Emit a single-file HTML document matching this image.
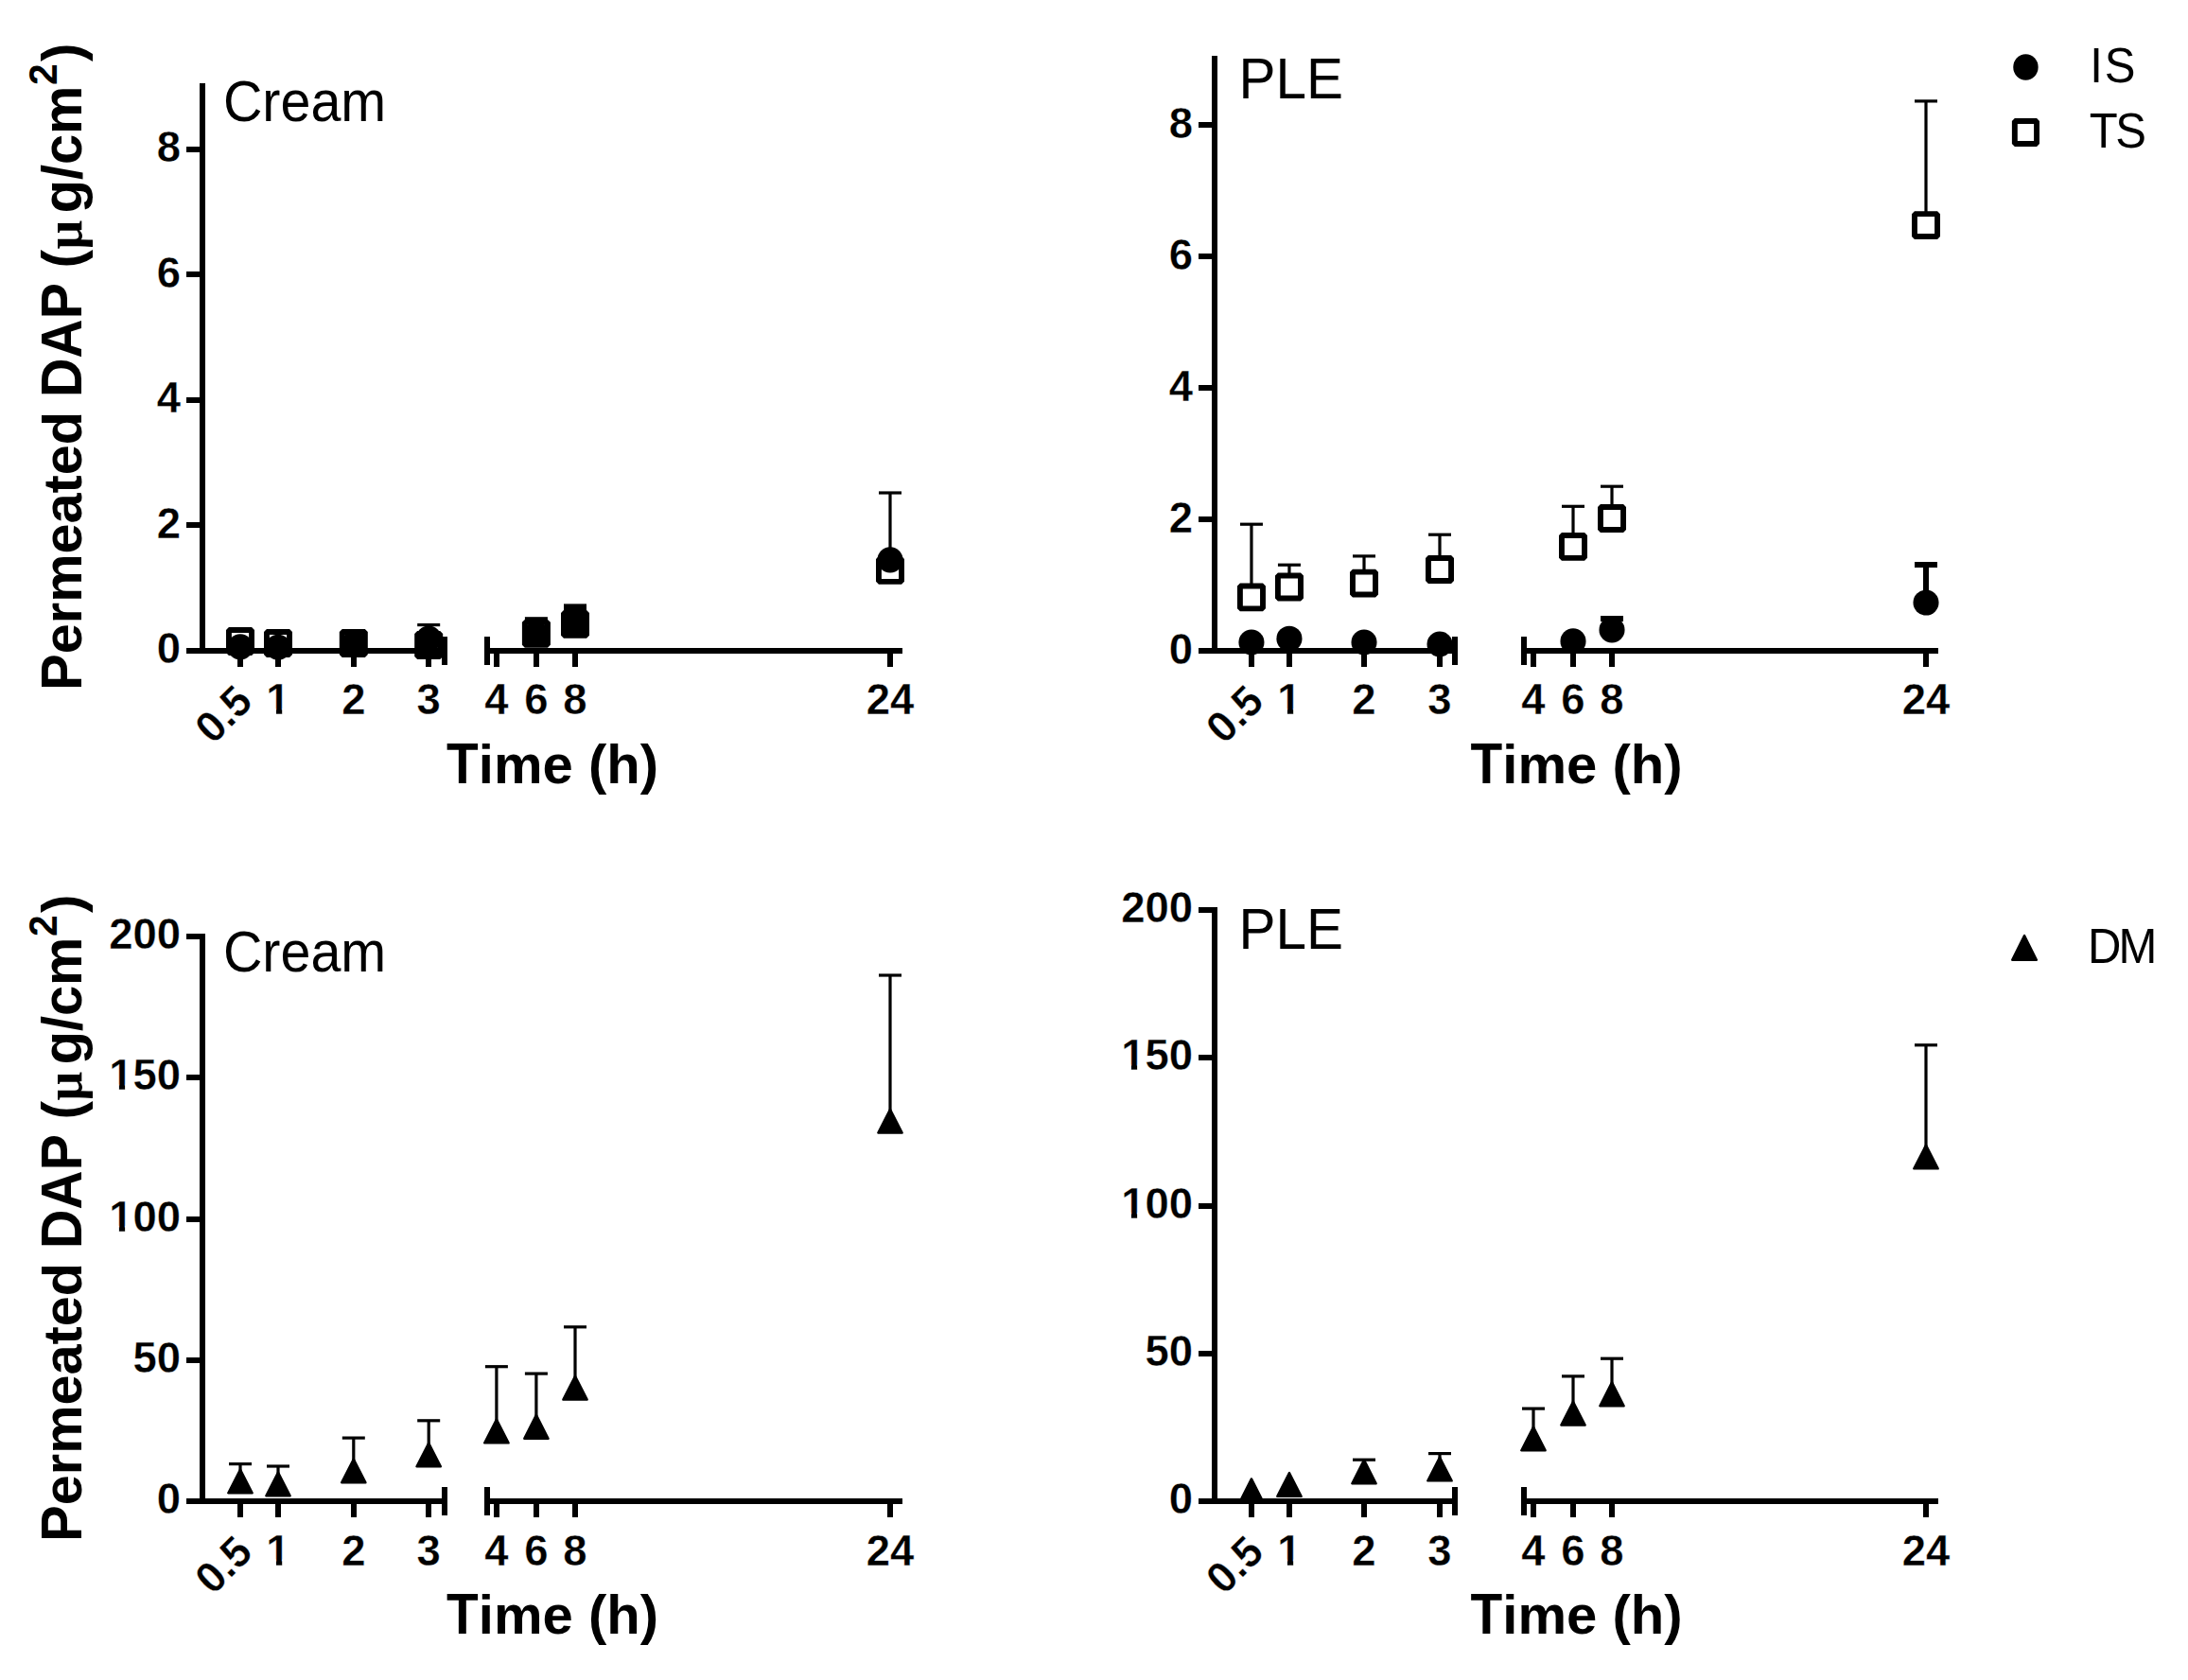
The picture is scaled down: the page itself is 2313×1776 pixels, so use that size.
<!DOCTYPE html>
<html lang="en"><head><meta charset="utf-8"><title>Permeated DAP</title>
<style>html,body{margin:0;padding:0;background:#fff;}body{width:2313px;height:1776px;overflow:hidden;}svg{display:block;}text{font-family:'Liberation Sans', Arial, Helvetica, sans-serif;fill:#000;}</style>
</head><body>
<svg width="2313" height="1776" viewBox="0 0 2313 1776" fill="#000">
<rect x="0" y="0" width="2313" height="1776" fill="#fff"/>
<defs>
<clipPath id="c1m" clipPathUnits="userSpaceOnUse"><path clip-rule="evenodd" d="M-200 -80H200V40H-200Z M-11.64 -5.98H-2.09V8H-11.64Z M4.33 -5.98H13.27V8H4.33Z"/></clipPath>
<clipPath id="c1e" clipPathUnits="userSpaceOnUse"><path clip-rule="evenodd" d="M-200 -80H200V40H-200Z M-76.71 -5.98H-67.16V8H-76.71Z M-60.74 -5.98H-51.8V8H-60.74Z"/></clipPath>
</defs>
<rect x="211" y="88" width="6" height="603"/>
<rect x="197" y="685" width="17" height="6"/>
<text id="TL_y0" transform="translate(191.1 701.2) scale(0.971 1)" font-size="46.8" font-weight="bold" text-anchor="end" stroke="#fff" stroke-width="0.35">0</text>
<rect x="197" y="552" width="17" height="6"/>
<text id="TL_y2" transform="translate(191.1 568.68) scale(0.971 1)" font-size="46.8" font-weight="bold" text-anchor="end" stroke="#fff" stroke-width="0.35">2</text>
<rect x="197" y="420" width="17" height="6"/>
<text id="TL_y4" transform="translate(191.1 436.16) scale(0.971 1)" font-size="46.8" font-weight="bold" text-anchor="end" stroke="#fff" stroke-width="0.35">4</text>
<rect x="197" y="287" width="17" height="6"/>
<text id="TL_y6" transform="translate(191.1 303.64) scale(0.971 1)" font-size="46.8" font-weight="bold" text-anchor="end" stroke="#fff" stroke-width="0.35">6</text>
<rect x="197" y="155" width="17" height="6"/>
<text id="TL_y8" transform="translate(191.1 171.12) scale(0.971 1)" font-size="46.8" font-weight="bold" text-anchor="end" stroke="#fff" stroke-width="0.35">8</text>
<rect x="197" y="685" width="276" height="6"/>
<rect x="467" y="673" width="6" height="30"/>
<rect x="512" y="673" width="6" height="30"/>
<rect x="512" y="685" width="442" height="6"/>
<rect x="251" y="688" width="6" height="17"/>
<text id="TL_x05" transform="translate(269.2 743.9) rotate(-45) scale(0.985 1)" font-size="45.5" font-weight="bold" text-anchor="end" stroke="#fff" stroke-width="0.35">0.5</text>
<rect x="291" y="688" width="6" height="17"/>
<text id="TL_x1" transform="translate(294 755.35) scale(0.971 1)" font-size="46.8" font-weight="bold" text-anchor="middle" clip-path="url(#c1m)" stroke="#fff" stroke-width="0.35">1</text>
<rect x="371" y="688" width="6" height="17"/>
<text id="TL_x2" transform="translate(373.8 755.35) scale(0.971 1)" font-size="46.8" font-weight="bold" text-anchor="middle" stroke="#fff" stroke-width="0.35">2</text>
<rect x="450" y="688" width="6" height="17"/>
<text id="TL_x3" transform="translate(453.2 755.35) scale(0.971 1)" font-size="46.8" font-weight="bold" text-anchor="middle" stroke="#fff" stroke-width="0.35">3</text>
<rect x="522" y="688" width="6" height="17"/>
<text id="TL_x4" transform="translate(524.9 755.35) scale(0.971 1)" font-size="46.8" font-weight="bold" text-anchor="middle" stroke="#fff" stroke-width="0.35">4</text>
<rect x="564" y="688" width="6" height="17"/>
<text id="TL_x6" transform="translate(566.9 755.35) scale(0.971 1)" font-size="46.8" font-weight="bold" text-anchor="middle" stroke="#fff" stroke-width="0.35">6</text>
<rect x="605" y="688" width="6" height="17"/>
<text id="TL_x8" transform="translate(608 755.35) scale(0.971 1)" font-size="46.8" font-weight="bold" text-anchor="middle" stroke="#fff" stroke-width="0.35">8</text>
<rect x="938" y="688" width="6" height="17"/>
<text id="TL_x24" transform="translate(941 755.35) scale(0.971 1)" font-size="46.8" font-weight="bold" text-anchor="middle" stroke="#fff" stroke-width="0.35">24</text>
<text id="TL_time" transform="translate(584.1 827.7)" font-size="58.05" font-weight="bold" text-anchor="middle"><tspan font-size="60.75" textLength="33.7" lengthAdjust="spacingAndGlyphs">T</tspan>ime (h)</text>
<text id="TL_title" transform="translate(235.9 127.9) scale(0.94 1)" font-size="61.1" font-weight="normal" text-anchor="start">Cream</text>
<rect x="1281" y="59" width="6" height="632"/>
<rect x="1267" y="685" width="17" height="6"/>
<text id="TR_y0" transform="translate(1261.1 702) scale(0.971 1)" font-size="46.8" font-weight="bold" text-anchor="end" stroke="#fff" stroke-width="0.35">0</text>
<rect x="1267" y="546" width="17" height="6"/>
<text id="TR_y2" transform="translate(1261.1 563) scale(0.971 1)" font-size="46.8" font-weight="bold" text-anchor="end" stroke="#fff" stroke-width="0.35">2</text>
<rect x="1267" y="407" width="17" height="6"/>
<text id="TR_y4" transform="translate(1261.1 424) scale(0.971 1)" font-size="46.8" font-weight="bold" text-anchor="end" stroke="#fff" stroke-width="0.35">4</text>
<rect x="1267" y="268" width="17" height="6"/>
<text id="TR_y6" transform="translate(1261.1 285) scale(0.971 1)" font-size="46.8" font-weight="bold" text-anchor="end" stroke="#fff" stroke-width="0.35">6</text>
<rect x="1267" y="129" width="17" height="6"/>
<text id="TR_y8" transform="translate(1261.1 146) scale(0.971 1)" font-size="46.8" font-weight="bold" text-anchor="end" stroke="#fff" stroke-width="0.35">8</text>
<rect x="1267" y="685" width="274" height="6"/>
<rect x="1535" y="673" width="6" height="30"/>
<rect x="1608" y="673" width="6" height="30"/>
<rect x="1608" y="685" width="441" height="6"/>
<rect x="1320" y="688" width="6" height="17"/>
<text id="TR_x05" transform="translate(1338.15 743.9) rotate(-45) scale(0.985 1)" font-size="45.5" font-weight="bold" text-anchor="end" stroke="#fff" stroke-width="0.35">0.5</text>
<rect x="1360" y="688" width="6" height="17"/>
<text id="TR_x1" transform="translate(1362.95 755.35) scale(0.971 1)" font-size="46.8" font-weight="bold" text-anchor="middle" clip-path="url(#c1m)" stroke="#fff" stroke-width="0.35">1</text>
<rect x="1439" y="688" width="6" height="17"/>
<text id="TR_x2" transform="translate(1442 755.35) scale(0.971 1)" font-size="46.8" font-weight="bold" text-anchor="middle" stroke="#fff" stroke-width="0.35">2</text>
<rect x="1519" y="688" width="6" height="17"/>
<text id="TR_x3" transform="translate(1522 755.35) scale(0.971 1)" font-size="46.8" font-weight="bold" text-anchor="middle" stroke="#fff" stroke-width="0.35">3</text>
<rect x="1618" y="688" width="6" height="17"/>
<text id="TR_x4" transform="translate(1621 755.35) scale(0.971 1)" font-size="46.8" font-weight="bold" text-anchor="middle" stroke="#fff" stroke-width="0.35">4</text>
<rect x="1660" y="688" width="6" height="17"/>
<text id="TR_x6" transform="translate(1663 755.35) scale(0.971 1)" font-size="46.8" font-weight="bold" text-anchor="middle" stroke="#fff" stroke-width="0.35">6</text>
<rect x="1701" y="688" width="6" height="17"/>
<text id="TR_x8" transform="translate(1704 755.35) scale(0.971 1)" font-size="46.8" font-weight="bold" text-anchor="middle" stroke="#fff" stroke-width="0.35">8</text>
<rect x="2033" y="688" width="6" height="17"/>
<text id="TR_x24" transform="translate(2036 755.35) scale(0.971 1)" font-size="46.8" font-weight="bold" text-anchor="middle" stroke="#fff" stroke-width="0.35">24</text>
<text id="TR_time" transform="translate(1666.6 827.7)" font-size="58.05" font-weight="bold" text-anchor="middle"><tspan font-size="60.75" textLength="33.7" lengthAdjust="spacingAndGlyphs">T</tspan>ime (h)</text>
<text id="TR_title" transform="translate(1309.6 103.9) scale(0.957 1)" font-size="61.1" font-weight="normal" text-anchor="start">PLE</text>
<rect x="211" y="987" width="6" height="603"/>
<rect x="197" y="1584" width="17" height="6"/>
<text id="BL_y0" transform="translate(191.1 1600.2) scale(0.971 1)" font-size="46.8" font-weight="bold" text-anchor="end" stroke="#fff" stroke-width="0.35">0</text>
<rect x="197" y="1435" width="17" height="6"/>
<text id="BL_y50" transform="translate(191.1 1450.96) scale(0.971 1)" font-size="46.8" font-weight="bold" text-anchor="end" stroke="#fff" stroke-width="0.35">50</text>
<rect x="197" y="1286" width="17" height="6"/>
<text id="BL_y100" transform="translate(191.1 1301.72) scale(0.971 1)" font-size="46.8" font-weight="bold" text-anchor="end" clip-path="url(#c1e)" stroke="#fff" stroke-width="0.35">100</text>
<rect x="197" y="1136" width="17" height="6"/>
<text id="BL_y150" transform="translate(191.1 1152.48) scale(0.971 1)" font-size="46.8" font-weight="bold" text-anchor="end" clip-path="url(#c1e)" stroke="#fff" stroke-width="0.35">150</text>
<rect x="197" y="987" width="17" height="6"/>
<text id="BL_y200" transform="translate(191.1 1003.24) scale(0.971 1)" font-size="46.8" font-weight="bold" text-anchor="end" stroke="#fff" stroke-width="0.35">200</text>
<rect x="197" y="1584" width="276" height="6"/>
<rect x="467" y="1572" width="6" height="30"/>
<rect x="512" y="1572" width="6" height="30"/>
<rect x="512" y="1584" width="442" height="6"/>
<rect x="251" y="1587" width="6" height="17"/>
<text id="BL_x05" transform="translate(269.2 1643.1) rotate(-45) scale(0.985 1)" font-size="45.5" font-weight="bold" text-anchor="end" stroke="#fff" stroke-width="0.35">0.5</text>
<rect x="291" y="1587" width="6" height="17"/>
<text id="BL_x1" transform="translate(294 1654.55) scale(0.971 1)" font-size="46.8" font-weight="bold" text-anchor="middle" clip-path="url(#c1m)" stroke="#fff" stroke-width="0.35">1</text>
<rect x="371" y="1587" width="6" height="17"/>
<text id="BL_x2" transform="translate(373.8 1654.55) scale(0.971 1)" font-size="46.8" font-weight="bold" text-anchor="middle" stroke="#fff" stroke-width="0.35">2</text>
<rect x="450" y="1587" width="6" height="17"/>
<text id="BL_x3" transform="translate(453.2 1654.55) scale(0.971 1)" font-size="46.8" font-weight="bold" text-anchor="middle" stroke="#fff" stroke-width="0.35">3</text>
<rect x="522" y="1587" width="6" height="17"/>
<text id="BL_x4" transform="translate(524.9 1654.55) scale(0.971 1)" font-size="46.8" font-weight="bold" text-anchor="middle" stroke="#fff" stroke-width="0.35">4</text>
<rect x="564" y="1587" width="6" height="17"/>
<text id="BL_x6" transform="translate(566.9 1654.55) scale(0.971 1)" font-size="46.8" font-weight="bold" text-anchor="middle" stroke="#fff" stroke-width="0.35">6</text>
<rect x="605" y="1587" width="6" height="17"/>
<text id="BL_x8" transform="translate(608 1654.55) scale(0.971 1)" font-size="46.8" font-weight="bold" text-anchor="middle" stroke="#fff" stroke-width="0.35">8</text>
<rect x="938" y="1587" width="6" height="17"/>
<text id="BL_x24" transform="translate(941 1654.55) scale(0.971 1)" font-size="46.8" font-weight="bold" text-anchor="middle" stroke="#fff" stroke-width="0.35">24</text>
<text id="BL_time" transform="translate(584.1 1726.9)" font-size="58.05" font-weight="bold" text-anchor="middle"><tspan font-size="60.75" textLength="33.7" lengthAdjust="spacingAndGlyphs">T</tspan>ime (h)</text>
<text id="BL_title" transform="translate(235.9 1027) scale(0.94 1)" font-size="61.1" font-weight="normal" text-anchor="start">Cream</text>
<rect x="1281" y="959" width="6" height="631"/>
<rect x="1267" y="1584" width="17" height="6"/>
<text id="BR_y0" transform="translate(1261.1 1600.2) scale(0.971 1)" font-size="46.8" font-weight="bold" text-anchor="end" stroke="#fff" stroke-width="0.35">0</text>
<rect x="1267" y="1428" width="17" height="6"/>
<text id="BR_y50" transform="translate(1261.1 1443.96) scale(0.971 1)" font-size="46.8" font-weight="bold" text-anchor="end" stroke="#fff" stroke-width="0.35">50</text>
<rect x="1267" y="1272" width="17" height="6"/>
<text id="BR_y100" transform="translate(1261.1 1287.72) scale(0.971 1)" font-size="46.8" font-weight="bold" text-anchor="end" clip-path="url(#c1e)" stroke="#fff" stroke-width="0.35">100</text>
<rect x="1267" y="1115" width="17" height="6"/>
<text id="BR_y150" transform="translate(1261.1 1131.48) scale(0.971 1)" font-size="46.8" font-weight="bold" text-anchor="end" clip-path="url(#c1e)" stroke="#fff" stroke-width="0.35">150</text>
<rect x="1267" y="959" width="17" height="6"/>
<text id="BR_y200" transform="translate(1261.1 975.24) scale(0.971 1)" font-size="46.8" font-weight="bold" text-anchor="end" stroke="#fff" stroke-width="0.35">200</text>
<rect x="1267" y="1584" width="274" height="6"/>
<rect x="1535" y="1572" width="6" height="30"/>
<rect x="1608" y="1572" width="6" height="30"/>
<rect x="1608" y="1584" width="441" height="6"/>
<rect x="1320" y="1587" width="6" height="17"/>
<text id="BR_x05" transform="translate(1338.15 1643.1) rotate(-45) scale(0.985 1)" font-size="45.5" font-weight="bold" text-anchor="end" stroke="#fff" stroke-width="0.35">0.5</text>
<rect x="1360" y="1587" width="6" height="17"/>
<text id="BR_x1" transform="translate(1362.95 1654.55) scale(0.971 1)" font-size="46.8" font-weight="bold" text-anchor="middle" clip-path="url(#c1m)" stroke="#fff" stroke-width="0.35">1</text>
<rect x="1439" y="1587" width="6" height="17"/>
<text id="BR_x2" transform="translate(1442 1654.55) scale(0.971 1)" font-size="46.8" font-weight="bold" text-anchor="middle" stroke="#fff" stroke-width="0.35">2</text>
<rect x="1519" y="1587" width="6" height="17"/>
<text id="BR_x3" transform="translate(1522 1654.55) scale(0.971 1)" font-size="46.8" font-weight="bold" text-anchor="middle" stroke="#fff" stroke-width="0.35">3</text>
<rect x="1618" y="1587" width="6" height="17"/>
<text id="BR_x4" transform="translate(1621 1654.55) scale(0.971 1)" font-size="46.8" font-weight="bold" text-anchor="middle" stroke="#fff" stroke-width="0.35">4</text>
<rect x="1660" y="1587" width="6" height="17"/>
<text id="BR_x6" transform="translate(1663 1654.55) scale(0.971 1)" font-size="46.8" font-weight="bold" text-anchor="middle" stroke="#fff" stroke-width="0.35">6</text>
<rect x="1701" y="1587" width="6" height="17"/>
<text id="BR_x8" transform="translate(1704 1654.55) scale(0.971 1)" font-size="46.8" font-weight="bold" text-anchor="middle" stroke="#fff" stroke-width="0.35">8</text>
<rect x="2033" y="1587" width="6" height="17"/>
<text id="BR_x24" transform="translate(2036 1654.55) scale(0.971 1)" font-size="46.8" font-weight="bold" text-anchor="middle" stroke="#fff" stroke-width="0.35">24</text>
<text id="BR_time" transform="translate(1666.6 1726.9)" font-size="58.05" font-weight="bold" text-anchor="middle"><tspan font-size="60.75" textLength="33.7" lengthAdjust="spacingAndGlyphs">T</tspan>ime (h)</text>
<text id="BR_title" transform="translate(1309.6 1002.8) scale(0.957 1)" font-size="61.1" font-weight="normal" text-anchor="start">PLE</text>
<text id="TL_ylabel" transform="translate(86 0) rotate(-90)" font-size="58.4" font-weight="bold" text-anchor="start"><tspan x="-730" font-size="60.75" textLength="38.81" lengthAdjust="spacingAndGlyphs">P</tspan><tspan font-size="58.2" textLength="256.16" lengthAdjust="spacingAndGlyphs">ermeated</tspan> <tspan x="-420" font-size="60.75" textLength="120.95" lengthAdjust="spacingAndGlyphs">DAP</tspan> <tspan x="-283.5">(</tspan><tspan x="-263.6" font-family="'Liberation Serif', 'DejaVu Serif', serif" font-size="54">μ</tspan><tspan x="-225.3" textLength="134.66" lengthAdjust="spacingAndGlyphs">g/cm</tspan><tspan x="-90" dy="-26" font-size="42" textLength="22.66" lengthAdjust="spacingAndGlyphs">2</tspan><tspan x="-65" dy="26">)</tspan></text>
<text id="BL_ylabel" transform="translate(86 900) rotate(-90)" font-size="58.4" font-weight="bold" text-anchor="start"><tspan x="-730" font-size="60.75" textLength="38.81" lengthAdjust="spacingAndGlyphs">P</tspan><tspan font-size="58.2" textLength="256.16" lengthAdjust="spacingAndGlyphs">ermeated</tspan> <tspan x="-420" font-size="60.75" textLength="120.95" lengthAdjust="spacingAndGlyphs">DAP</tspan> <tspan x="-283.5">(</tspan><tspan x="-263.6" font-family="'Liberation Serif', 'DejaVu Serif', serif" font-size="54">μ</tspan><tspan x="-225.3" textLength="134.66" lengthAdjust="spacingAndGlyphs">g/cm</tspan><tspan x="-90" dy="-26" font-size="42" textLength="22.66" lengthAdjust="spacingAndGlyphs">2</tspan><tspan x="-65" dy="26">)</tspan></text>
<rect x="441.2" y="659" width="24" height="3.2"/>
<rect x="451.6" y="660.6" width="3.2" height="14.4"/>
<rect x="554.9" y="652.2" width="24" height="3.2"/>
<rect x="565.3" y="653.8" width="3.2" height="15.2"/>
<rect x="596" y="638.4" width="24" height="9.6"/>
<rect x="929" y="519.4" width="24" height="3.2"/>
<rect x="939.4" y="521" width="3.2" height="69"/>
<ellipse cx="254" cy="683.8" rx="13.55" ry="13.55"/>
<ellipse cx="294" cy="684.2" rx="13.55" ry="13.55"/>
<ellipse cx="373.8" cy="681" rx="13.55" ry="13.55"/>
<ellipse cx="453.2" cy="675" rx="13.55" ry="13.55"/>
<ellipse cx="566.9" cy="670.5" rx="13.55" ry="13.55"/>
<ellipse cx="608" cy="660.5" rx="13.55" ry="13.55"/>
<ellipse cx="941" cy="591.9" rx="13.55" ry="13.55"/>
<rect x="241.95" y="666.05" width="24.1" height="23.9" fill="none" stroke="#000" stroke-width="5.9" stroke-linejoin="bevel"/>
<rect x="281.95" y="668.05" width="24.1" height="23.9" fill="none" stroke="#000" stroke-width="5.9" stroke-linejoin="bevel"/>
<rect x="361.75" y="668.05" width="24.1" height="23.9" fill="none" stroke="#000" stroke-width="5.9" stroke-linejoin="bevel"/>
<rect x="441.15" y="670.05" width="24.1" height="23.9" fill="none" stroke="#000" stroke-width="5.9" stroke-linejoin="bevel"/>
<rect x="554.85" y="657.85" width="24.1" height="23.9" fill="none" stroke="#000" stroke-width="5.9" stroke-linejoin="bevel"/>
<rect x="595.95" y="647.95" width="24.1" height="23.9" fill="none" stroke="#000" stroke-width="5.9" stroke-linejoin="bevel"/>
<rect x="928.95" y="590.95" width="24.1" height="23.9" fill="none" stroke="#000" stroke-width="5.9" stroke-linejoin="bevel"/>
<rect x="1692" y="651" width="24" height="6"/>
<rect x="1701" y="654" width="6" height="12"/>
<rect x="2024" y="594" width="24" height="6"/>
<rect x="2033" y="597" width="6" height="40"/>
<rect x="1310.95" y="552.6" width="24" height="3.2"/>
<rect x="1321.35" y="554.2" width="3.2" height="65.2"/>
<rect x="1350.95" y="595.6" width="24" height="3.2"/>
<rect x="1361.35" y="597.2" width="3.2" height="11.3"/>
<rect x="1430" y="586.3" width="24" height="3.2"/>
<rect x="1440.4" y="587.9" width="3.2" height="16.7"/>
<rect x="1510" y="563.6" width="24" height="3.2"/>
<rect x="1520.4" y="565.2" width="3.2" height="24.8"/>
<rect x="1651" y="533.7" width="24" height="3.2"/>
<rect x="1661.4" y="535.3" width="3.2" height="30.6"/>
<rect x="1692" y="512.6" width="24" height="3.2"/>
<rect x="1702.4" y="514.2" width="3.2" height="21.8"/>
<rect x="2024" y="105.3" width="24" height="3.2"/>
<rect x="2034.4" y="106.9" width="3.2" height="119.2"/>
<ellipse cx="1322.95" cy="679" rx="13.55" ry="13.55"/>
<ellipse cx="1362.95" cy="675.2" rx="13.55" ry="13.55"/>
<ellipse cx="1442" cy="679" rx="13.55" ry="13.55"/>
<ellipse cx="1522" cy="681" rx="13.55" ry="13.55"/>
<ellipse cx="1663" cy="677.9" rx="13.55" ry="13.55"/>
<ellipse cx="1704" cy="665.9" rx="13.55" ry="13.55"/>
<ellipse cx="2036" cy="637.05" rx="13.55" ry="13.55"/>
<rect x="1310.9" y="619.45" width="24.1" height="23.9" fill="none" stroke="#000" stroke-width="5.9" stroke-linejoin="bevel"/>
<rect x="1350.9" y="608.55" width="24.1" height="23.9" fill="none" stroke="#000" stroke-width="5.9" stroke-linejoin="bevel"/>
<rect x="1429.95" y="604.65" width="24.1" height="23.9" fill="none" stroke="#000" stroke-width="5.9" stroke-linejoin="bevel"/>
<rect x="1509.95" y="590.05" width="24.1" height="23.9" fill="none" stroke="#000" stroke-width="5.9" stroke-linejoin="bevel"/>
<rect x="1650.95" y="565.95" width="24.1" height="23.9" fill="none" stroke="#000" stroke-width="5.9" stroke-linejoin="bevel"/>
<rect x="1691.95" y="536.05" width="24.1" height="23.9" fill="none" stroke="#000" stroke-width="5.9" stroke-linejoin="bevel"/>
<rect x="2023.95" y="226.15" width="24.1" height="23.9" fill="none" stroke="#000" stroke-width="5.9" stroke-linejoin="bevel"/>
<rect x="242" y="1546" width="24" height="3.2"/>
<rect x="252.4" y="1547.6" width="3.2" height="11.2"/>
<path d="M241.35 1578.3 L266.65 1578.3 L254 1553.5 Z" stroke="#000" stroke-width="2.4" stroke-linejoin="round"/>
<rect x="282" y="1548.4" width="24" height="3.2"/>
<rect x="292.4" y="1550" width="3.2" height="11.8"/>
<path d="M281.35 1581.3 L306.65 1581.3 L294 1556.5 Z" stroke="#000" stroke-width="2.4" stroke-linejoin="round"/>
<rect x="361.8" y="1518.5" width="24" height="3.2"/>
<rect x="372.2" y="1520.1" width="3.2" height="27.7"/>
<path d="M361.15 1567.3 L386.45 1567.3 L373.8 1542.5 Z" stroke="#000" stroke-width="2.4" stroke-linejoin="round"/>
<rect x="441.2" y="1500.2" width="24" height="3.2"/>
<rect x="451.6" y="1501.8" width="3.2" height="29"/>
<path d="M440.55 1550.3 L465.85 1550.3 L453.2 1525.5 Z" stroke="#000" stroke-width="2.4" stroke-linejoin="round"/>
<rect x="512.9" y="1443.1" width="24" height="3.2"/>
<rect x="523.3" y="1444.7" width="3.2" height="61.2"/>
<path d="M512.25 1525.4 L537.55 1525.4 L524.9 1500.6 Z" stroke="#000" stroke-width="2.4" stroke-linejoin="round"/>
<rect x="554.9" y="1450.5" width="24" height="3.2"/>
<rect x="565.3" y="1452.1" width="3.2" height="49.1"/>
<path d="M554.25 1520.7 L579.55 1520.7 L566.9 1495.9 Z" stroke="#000" stroke-width="2.4" stroke-linejoin="round"/>
<rect x="596" y="1401.2" width="24" height="3.2"/>
<rect x="606.4" y="1402.8" width="3.2" height="57.3"/>
<path d="M595.35 1479.6 L620.65 1479.6 L608 1454.8 Z" stroke="#000" stroke-width="2.4" stroke-linejoin="round"/>
<rect x="929" y="1029.4" width="24" height="3.2"/>
<rect x="939.4" y="1031" width="3.2" height="147"/>
<path d="M928.35 1197.5 L953.65 1197.5 L941 1172.7 Z" stroke="#000" stroke-width="2.4" stroke-linejoin="round"/>
<path d="M1310.3 1588.2 L1335.6 1588.2 L1322.95 1563.4 Z" stroke="#000" stroke-width="2.4" stroke-linejoin="round"/>
<path d="M1350.3 1581.9 L1375.6 1581.9 L1362.95 1557.1 Z" stroke="#000" stroke-width="2.4" stroke-linejoin="round"/>
<rect x="1430" y="1541.6" width="24" height="3.2"/>
<rect x="1440.4" y="1543.2" width="3.2" height="5.5"/>
<path d="M1429.35 1568.2 L1454.65 1568.2 L1442 1543.4 Z" stroke="#000" stroke-width="2.4" stroke-linejoin="round"/>
<rect x="1510" y="1535" width="24" height="3.2"/>
<rect x="1520.4" y="1536.6" width="3.2" height="9.3"/>
<path d="M1509.35 1565.4 L1534.65 1565.4 L1522 1540.6 Z" stroke="#000" stroke-width="2.4" stroke-linejoin="round"/>
<rect x="1609" y="1487.5" width="24" height="3.2"/>
<rect x="1619.4" y="1489.1" width="3.2" height="24.7"/>
<path d="M1608.35 1533.3 L1633.65 1533.3 L1621 1508.5 Z" stroke="#000" stroke-width="2.4" stroke-linejoin="round"/>
<rect x="1651" y="1453.3" width="24" height="3.2"/>
<rect x="1661.4" y="1454.9" width="3.2" height="32.1"/>
<path d="M1650.35 1506.5 L1675.65 1506.5 L1663 1481.7 Z" stroke="#000" stroke-width="2.4" stroke-linejoin="round"/>
<rect x="1692" y="1434.6" width="24" height="3.2"/>
<rect x="1702.4" y="1436.2" width="3.2" height="30.5"/>
<path d="M1691.35 1486.2 L1716.65 1486.2 L1704 1461.4 Z" stroke="#000" stroke-width="2.4" stroke-linejoin="round"/>
<rect x="2024" y="1103.2" width="24" height="3.2"/>
<rect x="2034.4" y="1104.8" width="3.2" height="111.1"/>
<path d="M2023.35 1235.4 L2048.65 1235.4 L2036 1210.6 Z" stroke="#000" stroke-width="2.4" stroke-linejoin="round"/>
<ellipse cx="2141.45" cy="70.95" rx="13.2" ry="13.7"/>
<text id="leg_IS" transform="translate(2209.34 86.86) scale(0.96 1)" font-size="51.1" font-weight="normal" text-anchor="start" x="0 16.05">IS</text>
<rect x="2129.84" y="128" width="23.2" height="24" fill="none" stroke="#000" stroke-width="5.9" stroke-linejoin="bevel"/>
<text id="leg_TS" transform="translate(2208.87 155.96) scale(0.96 1)" font-size="51.1" font-weight="normal" text-anchor="start" x="0 28.62">TS</text>
<path d="M2127.2 1014.72 L2152.86 1014.72 L2140.03 988.97 Z" stroke="#000" stroke-width="2.4" stroke-linejoin="round"/>
<text id="leg_DM" transform="translate(2206.92 1017.93) scale(0.96 1)" font-size="51.1" font-weight="normal" text-anchor="start" x="0 33.85">DM</text>
</svg></body></html>
